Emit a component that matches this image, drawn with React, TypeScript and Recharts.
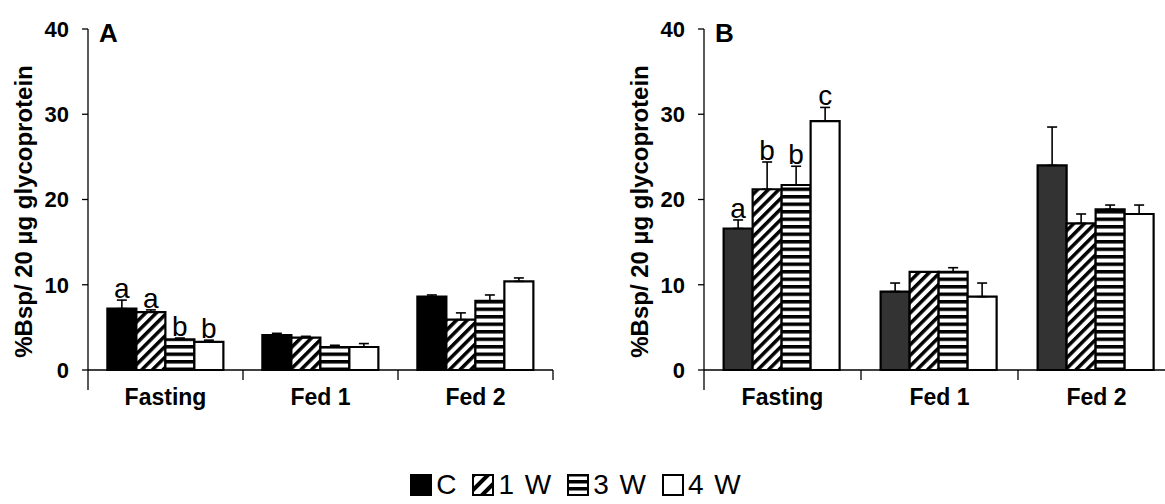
import React from "react";
import { BarChart, Bar, XAxis, YAxis, ErrorBar, LabelList } from "recharts";

const FONT = "Arial, 'Liberation Sans', Helvetica, sans-serif";

const categories = ["Fasting", "Fed 1", "Fed 2"];
const seriesNames = ["C", "1 W", "3 W", "4 W"];
const yTicks = [0, 10, 20, 30, 40];
const yTitle = "%Bsp/ 20 µg glycoprotein";

// Panel A
const aC = [7.2, 4.1, 8.6];
const a1W = [6.8, 3.8, 5.9];
const a3W = [3.6, 2.7, 8.1];
const a4W = [3.3, 2.7, 10.4];
const aCErr = [1.0, 0.2, 0.2];
const a1WErr = [0.25, 0.15, 0.8];
const a3WErr = [0.15, 0.2, 0.7];
const a4WErr = [0.2, 0.4, 0.4];
const aCLetters = ["a", "", ""];
const a1WLetters = ["a", "", ""];
const a3WLetters = ["b", "", ""];
const a4WLetters = ["b", "", ""];

// Panel B
const bC = [16.6, 9.2, 24.0];
const b1W = [21.2, 11.5, 17.2];
const b3W = [21.7, 11.5, 18.85];
const b4W = [29.2, 8.6, 18.3];
const bCErr = [1.0, 1.0, 4.5];
const b1WErr = [3.2, 0, 1.1];
const b3WErr = [2.2, 0.5, 0.5];
const b4WErr = [1.6, 1.6, 1.05];
const bCLetters = ["a", "", ""];
const b1WLetters = ["b", "", ""];
const b3WLetters = ["b", "", ""];
const b4WLetters = ["c", "", ""];

type Row = Record<string, any>;

function buildRows(means: number[][], errs: number[][], letters: string[][]): Row[] {
  return categories.map((cat, ci) => {
    const row: Row = { cat };
    means.forEach((m, si) => {
      row[`s${si}`] = m[ci];
      row[`e${si}`] = [0, errs[si][ci]];
      row[`l${si}`] = letters[si][ci];
    });
    return row;
  });
}

const rowsA = buildRows(
  [aC, a1W, a3W, a4W],
  [aCErr, a1WErr, a3WErr, a4WErr],
  [aCLetters, a1WLetters, a3WLetters, a4WLetters]
);
const rowsB = buildRows(
  [bC, b1W, b3W, b4W],
  [bCErr, b1WErr, b3WErr, b4WErr],
  [bCLetters, b1WLetters, b3WLetters, b4WLetters]
);

const Patterns = ({ prefix }: { prefix: string }) => (
  <defs>
    <pattern id={`${prefix}-hatch`} patternUnits="userSpaceOnUse" width="7.5" height="7.5" patternTransform="rotate(45)">
      <rect width="7.5" height="7.5" fill="#fff" />
      <rect width="3.5" height="7.5" fill="#000" />
    </pattern>
    <pattern id={`${prefix}-lines`} patternUnits="userSpaceOnUse" width="8" height="7.5">
      <rect width="8" height="7.5" fill="#fff" />
      <rect width="8" height="3.5" fill="#000" />
    </pattern>
  </defs>
);

const CatTick = (props: any) => {
  const { x, y, payload, index, half } = props;
  const h = typeof payload?.offset === "number" && payload.offset > 0 ? payload.offset : half;
  const idx = typeof index === "number" ? index : payload?.index;
  return (
    <g>
      {idx === 0 && <line x1={x - h} x2={x - h} y1={y} y2={y + 20} stroke="#000" strokeWidth={1.3} />}
      <line x1={x + h} x2={x + h} y1={y} y2={y + 10} stroke="#000" strokeWidth={1.3} />
      <text x={x} y={y + 35} textAnchor="middle" fontSize={23} fontWeight={700} fontFamily={FONT} fill="#000">
        {payload?.value}
      </text>
    </g>
  );
};

const YTitle = (props: any) => {
  const vb = props.viewBox || { x: 0, y: 0, width: 0, height: 0 };
  const cx = vb.x + vb.width - 65;
  const cy = vb.y + vb.height / 2 + 12;
  return (
    <g>
      <text
        x={cx}
        y={cy}
        transform={`rotate(-90 ${cx} ${cy})`}
        textAnchor="middle"
        dominantBaseline="central"
        fontSize={24}
        fontWeight={700}
        fontFamily={FONT}
        fill="#000"
      >
        {yTitle}
      </text>
      <text x={vb.x + vb.width + 11} y={vb.y + 13} fontSize={26} fontWeight={700} fontFamily={FONT} fill="#000">
        {props.letter}
      </text>
    </g>
  );
};

const makeLetter = (rows: Row[], si: number) => (p: any) => {
  const idx = p.index;
  const txt = p.value;
  if (!txt || idx == null) return null;
  const vb = p.viewBox || {};
  const x = Number(vb.x ?? p.x);
  const y = Number(vb.y ?? p.y);
  const w = Number(vb.width ?? p.width);
  const h = Number(vb.height ?? p.height);
  const mean = rows[idx][`s${si}`];
  const err = rows[idx][`e${si}`][1];
  const errTop = y - (mean ? (err * h) / mean : 0);
  return (
    <text x={x + w / 2} y={errTop - 2} textAnchor="middle" fontSize={28} fontFamily={FONT} fill="#000">
      {txt}
    </text>
  );
};

type PanelProps = {
  rows: Row[];
  letter: string;
  cFill: string;
  prefix: string;
  marginRight: number;
};

const W = 580;
const H = 420;
const Y_W = 80;

const Panel = ({ rows, letter, cFill, prefix, marginRight }: PanelProps) => {
  const margin = { top: 29, right: marginRight, left: 8, bottom: 10 };
  const half = (W - margin.left - Y_W - margin.right) / categories.length / 2;
  const fills = [cFill, `url(#${prefix}-hatch)`, `url(#${prefix}-lines)`, "#fff"];
  return (
    <BarChart width={W} height={H} data={rows} margin={margin} barCategoryGap="12.5%" barGap={0}>
      <Patterns prefix={prefix} />
      <XAxis
        dataKey="cat"
        height={40}
        interval={0}
        axisLine={{ stroke: "#000", strokeWidth: 1.3 }}
        tickLine={false}
        tickSize={0}
        tickMargin={0}
        tick={<CatTick half={half} />}
      />
      <YAxis
        domain={[0, 40]}
        ticks={yTicks}
        width={Y_W}
        tickSize={6}
        tickMargin={13}
        axisLine={{ stroke: "#000", strokeWidth: 1.3 }}
        tickLine={{ stroke: "#000", strokeWidth: 1.3 }}
        tick={{ fontSize: 22, fontWeight: 700, fill: "#000", fontFamily: FONT }}
        label={<YTitle letter={letter} />}
      />
      {fills.map((f, si) => (
        <Bar
          key={si}
          dataKey={`s${si}`}
          name={seriesNames[si]}
          fill={f}
          stroke="#000"
          strokeWidth={2.2}
          isAnimationActive={false}
        >
          <ErrorBar dataKey={`e${si}`} width={5} stroke="#000" strokeWidth={1.6} direction="y" />
          <LabelList dataKey={`l${si}`} content={makeLetter(rows, si)} />
        </Bar>
      ))}
    </BarChart>
  );
};

const legendFills = ["#000", "url(#lg-hatch)", "url(#lg-lines)", "#fff"];

const Legend = () => (
  <div
    style={{
      position: "absolute",
      left: 0,
      top: 470,
      width: 1165,
      height: 30,
      display: "flex",
      justifyContent: "center",
      alignItems: "center",
      paddingRight: 14,
      boxSizing: "border-box",
    }}
  >
    <svg width={0} height={0} style={{ position: "absolute" }}>
      <defs>
        <pattern id="lg-hatch" patternUnits="userSpaceOnUse" width="10" height="10" patternTransform="rotate(45)">
          <rect width="10" height="10" fill="#fff" />
          <rect width="4" height="10" fill="#000" />
        </pattern>
        <pattern id="lg-lines" patternUnits="userSpaceOnUse" width="10" height="7">
          <rect width="10" height="7" fill="#000" />
          <rect y="2.5" width="10" height="3.5" fill="#fff" />
        </pattern>
      </defs>
    </svg>
    {seriesNames.map((n, i) => (
      <div key={n} style={{ display: "flex", alignItems: "center", marginLeft: i === 0 ? 0 : 16 }}>
        <svg width={22} height={22}>
          <rect x={1} y={1} width={20} height={20} fill={legendFills[i]} stroke="#000" strokeWidth={2} />
        </svg>
        <span
          style={{
            fontFamily: FONT,
            fontSize: 28,
            lineHeight: 1,
            marginLeft: 4,
            wordSpacing: 3,
            color: "#000",
          }}
        >
          {n}
        </span>
      </div>
    ))}
  </div>
);

export default function App() {
  return (
    <div
      style={{
        position: "absolute",
        left: 0,
        top: 0,
        width: 1165,
        height: 504,
        overflow: "hidden",
        background: "#fff",
      }}
    >
      <div style={{ position: "absolute", left: 0, top: 0 }}>
        <Panel rows={rowsA} letter="A" cFill="#000" prefix="pa" marginRight={27} />
      </div>
      <div style={{ position: "absolute", left: 616, top: 0 }}>
        <Panel rows={rowsB} letter="B" cFill="#333" prefix="pb" marginRight={21} />
      </div>
      <Legend />
    </div>
  );
}
